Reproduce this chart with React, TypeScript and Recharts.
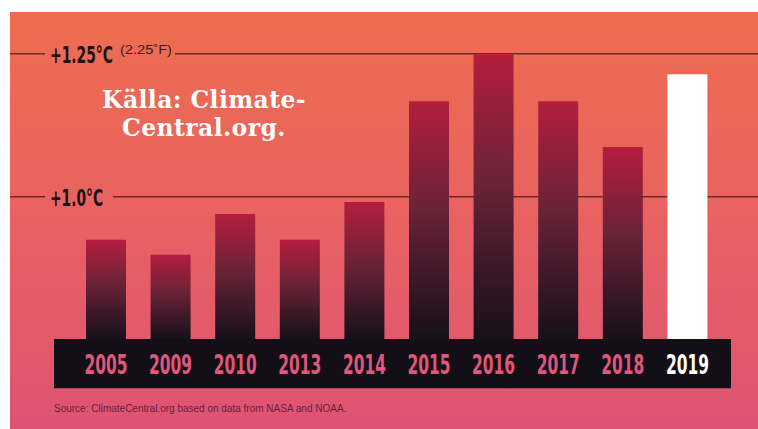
import React from 'react';
import { BarChart, Bar, XAxis, YAxis, ReferenceArea, ReferenceLine, Cell, LabelList } from 'recharts';

// ---- data (°C above pre-industrial) ----
const YEARS = ['2005', '2009', '2010', '2013', '2014', '2015', '2016', '2017', '2018', '2019'];
const ANOMALY_C = [0.925, 0.899, 0.97, 0.925, 0.991, 1.167, 1.249, 1.167, 1.087, 1.214];
const HIGHLIGHT_YEAR = '2019';
const STRIP_TOP_C = 0.752; // top of the black year strip (bars start here)
const STRIP_BOTTOM_C = 0.666;
const Y_DOMAIN: [number, number] = [0.6, 1.3];
const REF_VALUES = [1.25, 1.0];
const REF_LABELS = ['+1.25°C', '+1.0°C'];
const REF_SUBLABELS = ['(2.25˚F)', ''];
const NOTE_LINES = ['Källa: Climate-', 'Central.org.'];
const SOURCE = 'Source: ClimateCentral.org based on data from NASA and NOAA.';

const data = YEARS.map((year, i) => ({ year, range: [STRIP_TOP_C, ANOMALY_C[i]] }));

const W = 758;
const H = 429;
const V_MARGIN = { top: 25, bottom: 3 };
const LINE_COLOR = '#6e2a26';
const CONDENSED = '"Liberation Sans Narrow", "DejaVu Sans Condensed", "Arial Narrow", sans-serif';
const LABEL_SCALE = 0.68;

const RefLabel = (props: any) => {
  const { viewBox, text, sub, textWidth, gapEnd } = props;
  if (!viewBox) return null;
  const left = Math.min(viewBox.x, viewBox.x + viewBox.width);
  const w = Math.abs(viewBox.width);
  const y = viewBox.y;
  return (
    <g>
      <line x1={left} x2={left + 35} y1={y} y2={y} stroke={LINE_COLOR} strokeWidth={1.5} />
      <g transform={`translate(${left + 40},${y + 9.5}) scale(${LABEL_SCALE},1)`}>
        <text
          x={0}
          y={0}
          fill="#1e1216"
          fontFamily={CONDENSED}
          fontWeight="bold"
          fontSize={23}
          textLength={textWidth / LABEL_SCALE}
          lengthAdjust="spacingAndGlyphs"
        >
          {text}
        </text>
      </g>
      {sub ? (
        <text
          x={left + 110}
          y={y}
          fill="#3a1a1e"
          fontFamily='"Liberation Sans", Arial, sans-serif'
          fontSize={12}
          textLength={52}
          lengthAdjust="spacingAndGlyphs"
        >
          {sub}
        </text>
      ) : null}
      <line x1={left + gapEnd} x2={left + w} y1={y} y2={y} stroke={LINE_COLOR} strokeWidth={1.5} />
    </g>
  );
};

const YearLabel = (props: any) => {
  const { x, y, width, height, index } = props;
  const bottom = Math.max(Number(y), Number(y) + Number(height));
  const year = YEARS[index];
  return (
    <text
      x={Number(x) + Number(width) / 2}
      y={bottom + 35}
      textAnchor="middle"
      fill={year === HIGHLIGHT_YEAR ? '#ffffff' : '#e0577b'}
      fontFamily={CONDENSED}
      fontWeight="bold"
      fontSize={26}
      textLength={43}
      lengthAdjust="spacingAndGlyphs"
    >
      {year}
    </text>
  );
};

const layer: React.CSSProperties = { position: 'absolute', left: 0, top: 0 };

const noteStyle = (top: number): React.CSSProperties => ({
  position: 'absolute',
  left: 74,
  top,
  width: 260,
  height: 27.5,
  textAlign: 'center',
  color: '#ffffff',
  fontFamily: '"DejaVu Serif", serif',
  fontWeight: 'bold',
  fontSize: 23.5,
  letterSpacing: 0.4,
  lineHeight: '27.5px',
  whiteSpace: 'nowrap',
});

export default function App() {
  return (
    <div style={{ position: 'absolute', left: 0, top: 0, width: W, height: H, background: '#ffffff', overflow: 'hidden' }}>
      <div
        style={{
          position: 'absolute',
          left: 10,
          top: 12,
          width: 748,
          height: 417,
          background: 'linear-gradient(to bottom, #ed6d4f 0%, #e96360 45%, #de5373 100%)',
        }}
      />
      {/* back layer: reference lines behind the bars */}
      <div style={layer}>
        <BarChart width={W} height={H} data={data} margin={{ ...V_MARGIN, left: 10, right: 0 }}>
          <XAxis dataKey="year" type="category" hide />
          <YAxis type="number" domain={Y_DOMAIN} hide allowDataOverflow />
          {REF_VALUES.map((v, i) => (
            <ReferenceLine
              key={v}
              y={v}
              stroke="none"
              label={(p: any) => (
                <RefLabel
                  {...p}
                  text={REF_LABELS[i]}
                  sub={REF_SUBLABELS[i]}
                  textWidth={i === 0 ? 63 : 53}
                  gapEnd={i === 0 ? 165 : 103}
                />
              )}
            />
          ))}
        </BarChart>
      </div>
      {/* middle layer: black year strip */}
      <div style={layer}>
        <BarChart width={W} height={H} data={data} margin={{ ...V_MARGIN, left: 54, right: 27 }}>
          <XAxis dataKey="year" type="category" hide />
          <YAxis type="number" domain={Y_DOMAIN} hide allowDataOverflow />
          <ReferenceArea y1={STRIP_BOTTOM_C} y2={STRIP_TOP_C} fill="#130f17" fillOpacity={1} stroke="none" />
        </BarChart>
      </div>
      {/* front layer: bars and year labels */}
      <div style={layer}>
        <BarChart width={W} height={H} data={data} margin={{ ...V_MARGIN, left: 10, right: 0 }}>
          <defs>
            <linearGradient id="barGrad" x1="0" y1="0" x2="0" y2="1">
              <stop offset="0%" stopColor="#b51d3e" />
              <stop offset="45%" stopColor="#6a2337" />
              <stop offset="100%" stopColor="#16101a" />
            </linearGradient>
          </defs>
          <XAxis dataKey="year" type="category" hide padding={{ left: 64, right: 38 }} />
          <YAxis type="number" domain={Y_DOMAIN} hide allowDataOverflow />
          <Bar dataKey="range" barSize={40} isAnimationActive={false}>
            {data.map((d) => (
              <Cell key={d.year} fill={d.year === HIGHLIGHT_YEAR ? '#ffffff' : 'url(#barGrad)'} />
            ))}
            <LabelList dataKey="range" content={YearLabel} />
          </Bar>
        </BarChart>
      </div>
      <div style={noteStyle(87)}>{NOTE_LINES[0]}</div>
      <div style={noteStyle(114.5)}>{NOTE_LINES[1]}</div>
      <div
        style={{
          position: 'absolute',
          left: 54,
          top: 403,
          color: '#6b1f3a',
          fontFamily: '"Liberation Sans", Arial, sans-serif',
          fontSize: 10,
          lineHeight: '12px',
          whiteSpace: 'nowrap',
        }}
      >
        {SOURCE}
      </div>
    </div>
  );
}
